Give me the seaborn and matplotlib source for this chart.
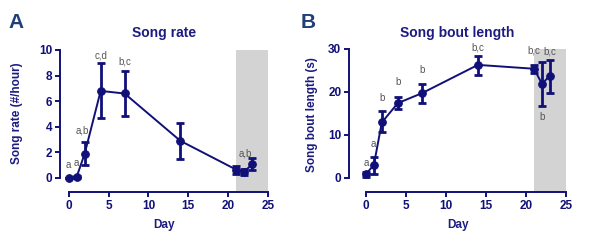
import matplotlib
matplotlib.use("Agg")
import matplotlib.pyplot as plt
import seaborn as sns
import pandas as pd
import numpy as np

sns.set_style("ticks")
plt.rcParams['font.family'] = ['Liberation Sans', 'DejaVu Sans']

days = [0, 1, 2, 4, 7, 14, 21, 22, 23]

rate_mean = [0.0, 0.1, 1.9, 6.8, 6.6, 2.9, 0.65, 0.47, 1.07]
rate_lo = [0.0, 0.0, 1.04, 4.72, 4.86, 1.51, 0.34, 0.2, 0.6]
rate_hi = [0.0, 0.15, 2.82, 8.95, 8.35, 4.26, 0.97, 0.73, 1.57]

bout_mean = [0.86, 2.96, 12.9, 17.4, 19.7, 26.3, 25.4, 21.9, 23.8]
bout_lo = [0.2, 1.0, 10.6, 16.0, 17.5, 24.0, 24.4, 16.8, 19.7]
bout_hi = [1.4, 4.9, 15.6, 18.8, 21.8, 28.4, 26.3, 27.0, 27.5]

rate_labels = ["a", "a", "a,b", "c,d", "b,c", "a,b"]
rate_label_x = [0, 0.9, 1.75, 4, 7, 22.1]
rate_label_y = [1.0, 1.2, 3.7, 9.6, 9.1, 1.9]

bout_labels = ["a", "a", "b", "b", "b", "b,c", "b,c", "b", "b,c"]
bout_label_x = [0, 0.9, 2, 4, 7, 14, 21, 22, 23]
bout_label_y = [3.5, 7.9, 18.5, 22.3, 25.0, 30.4, 29.7, 14.2, 29.5]

navy = "#101078"
title_c = "#1c1c80"
gray = "#555555"

fig = plt.figure(figsize=(6.02, 2.41), dpi=100)
axA = fig.add_axes([60/602, 1-192/241, (268-60)/602, (192-50)/241])
axB = fig.add_axes([349/602, 1-192/241, (566-349)/602, (192-49)/241])

def panel(ax, mean, lo, hi, ylim, xlim, yticks, ylabel, title, labels, lx, ly, ytop, ylab_xy):
    df = pd.DataFrame({"Day": days, "val": mean})
    ax.axvspan(21, 25, color="#d3d3d3", zorder=0, lw=0)
    yerr = np.array([np.array(mean) - np.array(lo), np.array(hi) - np.array(mean)])
    ax.errorbar(days, mean, yerr=yerr, fmt="none", ecolor=navy, elinewidth=2.0,
                capsize=3, capthick=2.0, zorder=3)
    sns.lineplot(data=df, x="Day", y="val", ax=ax, color=navy, lw=1.4,
                 marker="o", markersize=5.5, markeredgecolor=navy, zorder=4)
    for t, x, y in zip(labels, lx, ly):
        ax.text(x, y, t, ha="center", va="center", fontsize=7, color=gray)
    ax.set_xlim(*xlim)
    ax.set_ylim(*ylim)
    ax.set_xticks([0, 5, 10, 15, 20, 25])
    ax.set_yticks(yticks)
    ax.spines['left'].set_bounds(0, ytop)
    ax.spines['bottom'].set_bounds(0, 25)
    for s in ['left', 'bottom']:
        ax.spines[s].set_color(navy)
        ax.spines[s].set_linewidth(1.4)
    sns.despine(ax=ax)
    ax.tick_params(axis='both', colors=navy, width=1.4, length=3.5, labelsize=8.5, pad=2)
    for lab in ax.get_xticklabels() + ax.get_yticklabels():
        lab.set_fontweight('bold')
    ax.set_xlabel("Day", fontsize=8.5, fontweight='bold', color=title_c, labelpad=5)
    ax.set_ylabel(ylabel, fontsize=8.5, fontweight='bold', color=title_c)
    ax.yaxis.set_label_coords(*ylab_xy)
    ax.set_title(title, fontsize=10, fontweight='bold', color=title_c, pad=9)

panel(axA, rate_mean, rate_lo, rate_hi, (-1.1, 10), (-1.1, 25), [0, 2, 4, 6, 8, 10],
      "Song rate (#/hour)", "Song rate", rate_labels, rate_label_x, rate_label_y, 10,
      (-0.178, 0.553))
panel(axB, bout_mean, bout_lo, bout_hi, (-3.3, 30), (-2.1, 25), [0, 10, 20, 30],
      "Song bout length (s)", "Song bout length", bout_labels, bout_label_x, bout_label_y, 30,
      (-0.143, 0.545))

fig.text(8/602, 1-22/241, "A", fontsize=15, fontweight='bold', color="#203f78", va="center")
fig.text(301/602, 1-22/241, "B", fontsize=15, fontweight='bold', color="#203f78", va="center")

fig.savefig("out.png", dpi=100)
